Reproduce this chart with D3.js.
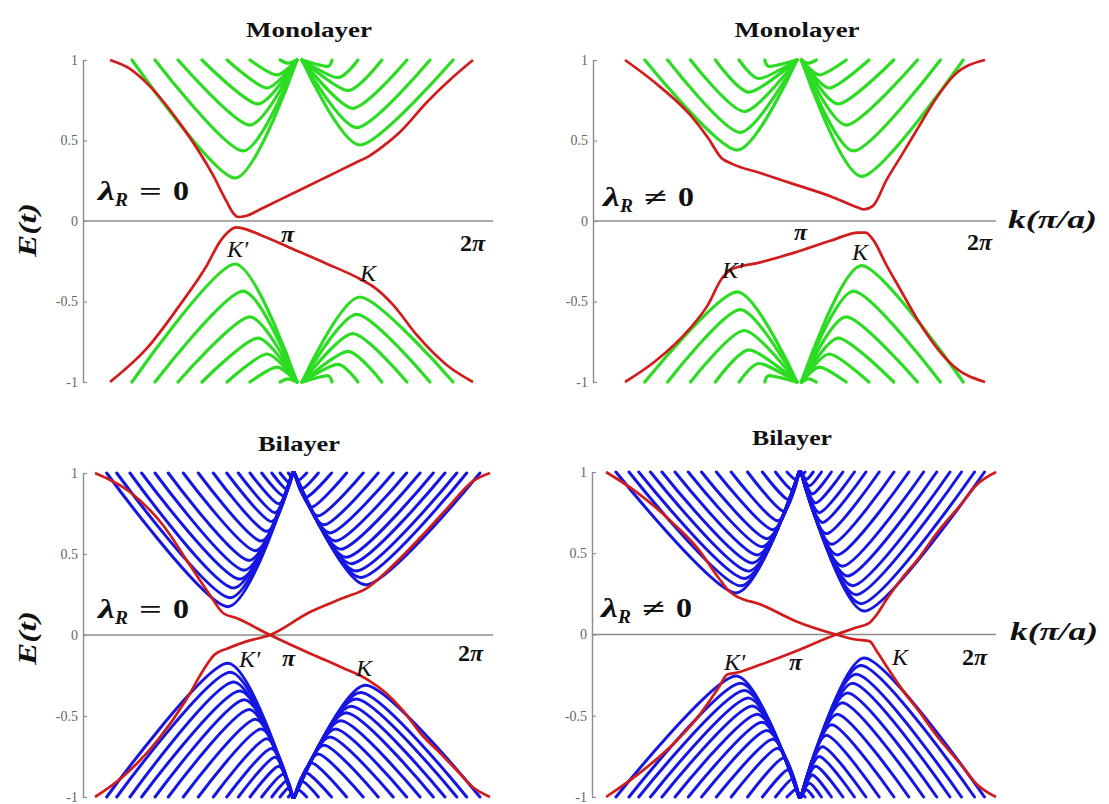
<!DOCTYPE html>
<html><head><meta charset="utf-8">
<script src="https://cdn.jsdelivr.net/npm/d3@7"></script>
<style>body{margin:0;background:#fff}</style>
</head><body>
<svg id="chart" width="1109" height="804"></svg>
<script>
// ---------- DATA (k in units of pi, E in units of t) ----------
// Only the E>0 half of every sub-band is listed; the E<0 half is its mirror (E -> -E), as read in the figure.
// Each sub-band: k where it leaves E=1, position/value of its minimum, k where it returns to E=1.
const yTicks = [-1, -0.5, 0, 0.5, 1];

// Monolayer, lambda_R = 0
const monoR0_leftStart = [0.121, 0.248, 0.375, 0.507, 0.645, 0.771, 0.937];
const monoR0_leftMinK  = [0.689, 0.733, 0.771, 0.815, 0.865, 0.92, 0.98];
const monoR0_leftMinE  = [0.267, 0.435, 0.596, 0.727, 0.826, 0.907, 0.98];
const monoR0_leftApex  = 1.03;
const monoR0_rightApex = 1.058;
const monoR0_rightMinK = [1.377, 1.36, 1.338, 1.311, 1.256, 1.196];
const monoR0_rightMinE = [0.472, 0.58, 0.70, 0.81, 0.89, 0.96];
const monoR0_rightEnd  = [1.89, 1.763, 1.636, 1.498, 1.366, 1.223];
const monoR0_redA = [[0,1],[0.11,0.945],[0.204,0.855],[0.386,0.605],[0.567,0.286],[0.643,0.12],[0.68,0.048],[0.705,0.025],[0.753,0.033],[0.843,0.081],[0.937,0.133],[1.10,0.222],[1.196,0.275],[1.35,0.36],[1.43,0.405],[1.50,0.46],[1.598,0.553],[1.747,0.739],[1.89,0.894],[2,1]];
const monoR0_redB = [[0,-1],[0.204,-0.79],[0.386,-0.52],[0.535,-0.273],[0.606,-0.128],[0.66,-0.06],[0.695,-0.04],[0.735,-0.047],[0.826,-0.085],[1.01,-0.175],[1.194,-0.265],[1.377,-0.36],[1.46,-0.415],[1.561,-0.522],[1.69,-0.708],[1.855,-0.894],[2,-1]];

// Monolayer, lambda_R != 0
const monoRn_leftStart = [0.11, 0.237, 0.364, 0.502, 0.634, 0.777];
const monoRn_leftMinK  = [0.623, 0.64, 0.662, 0.689, 0.744, 0.804];
const monoRn_leftMinE  = [0.44, 0.55, 0.68, 0.80, 0.885, 0.96];
const monoRn_leftApex  = 0.955;
const monoRn_rightApex = 0.98;
const monoRn_rightMinK = [1.315, 1.27, 1.229, 1.185, 1.135, 1.08, 1.02];
const monoRn_rightMinE = [0.277, 0.435, 0.596, 0.727, 0.826, 0.907, 0.98];
const monoRn_rightEnd  = [1.879, 1.752, 1.625, 1.493, 1.355, 1.229, 1.063];
const monoRn_redA = [[0,1],[0.166,0.86],[0.361,0.66],[0.459,0.52],[0.537,0.39],[0.595,0.355],[0.751,0.298],[0.946,0.226],[1.141,0.154],[1.298,0.082],[1.327,0.072],[1.376,0.092],[1.454,0.257],[1.532,0.40],[1.629,0.58],[1.727,0.76],[1.824,0.90],[2,1]];
const monoRn_redB = [[0,-1],[0.166,-0.873],[0.361,-0.667],[0.459,-0.524],[0.537,-0.359],[0.595,-0.298],[0.751,-0.257],[0.946,-0.195],[1.141,-0.123],[1.298,-0.072],[1.337,-0.072],[1.376,-0.113],[1.454,-0.277],[1.532,-0.43],[1.629,-0.62],[1.727,-0.78],[1.824,-0.90],[2,-1]];

// Bilayer, lambda_R = 0
const biR0_leftStart = [0.059, 0.11, 0.177, 0.236, 0.304, 0.371, 0.447, 0.523, 0.599, 0.667, 0.726, 0.785, 0.844, 0.895, 0.937, 0.979];
const biR0_leftMinK  = [0.672, 0.685, 0.702, 0.733, 0.756, 0.78, 0.812, 0.841, 0.869, 0.893, 0.911, 0.93, 0.953, 0.971, 0.984, 0.997];
const biR0_leftMinE  = [0.175, 0.23, 0.29, 0.345, 0.40, 0.46, 0.52, 0.58, 0.64, 0.70, 0.755, 0.81, 0.86, 0.90, 0.94, 0.975];
const biR0_leftApex  = 1.0;
const biR0_rightApex = 1.01;
const biR0_rightMinK = [1.37, 1.345, 1.322, 1.298, 1.272, 1.245, 1.218, 1.19, 1.16, 1.13, 1.097, 1.068, 1.05, 1.03];
const biR0_rightMinE = [0.31, 0.355, 0.395, 0.44, 0.48, 0.53, 0.58, 0.63, 0.68, 0.735, 0.79, 0.85, 0.905, 0.955];
const biR0_rightEnd  = [1.949, 1.882, 1.832, 1.772, 1.713, 1.646, 1.578, 1.51, 1.434, 1.358, 1.274, 1.198, 1.131, 1.072];
const biR0_redA = [[0,1],[0.177,0.883],[0.344,0.679],[0.48,0.432],[0.582,0.247],[0.648,0.136],[0.719,0.103],[0.886,0],[1.1,-0.12],[1.25,-0.2],[1.384,-0.278],[1.473,-0.358],[1.562,-0.47],[1.65,-0.61],[1.74,-0.72],[1.828,-0.83],[1.914,-0.94],[2,-1]];
const biR0_redB = [[0,-1],[0.141,-0.875],[0.318,-0.648],[0.461,-0.401],[0.549,-0.216],[0.603,-0.123],[0.674,-0.082],[0.763,-0.041],[0.886,0],[1.089,0.142],[1.256,0.228],[1.377,0.29],[1.509,0.43],[1.646,0.60],[1.782,0.78],[1.914,0.95],[2,1]];

// Bilayer, lambda_R != 0
const biRn_leftStart = [0.051, 0.118, 0.168, 0.228, 0.287, 0.354, 0.422, 0.49, 0.566, 0.642, 0.726, 0.802, 0.869, 0.928];
const biRn_leftMinK  = [0.667, 0.69, 0.71, 0.73, 0.75, 0.775, 0.80, 0.825, 0.855, 0.88, 0.91, 0.935, 0.955, 0.975];
const biRn_leftMinE  = [0.256, 0.30, 0.345, 0.39, 0.44, 0.49, 0.54, 0.59, 0.645, 0.70, 0.76, 0.83, 0.89, 0.95];
const biRn_leftApex  = 0.99;
const biRn_rightApex = 1.0;
const biRn_rightMinK = [1.325, 1.308, 1.283, 1.265, 1.239, 1.213, 1.186, 1.158, 1.131, 1.111, 1.094, 1.076, 1.059, 1.043, 1.028, 1.011];
const biRn_rightMinE = [0.144, 0.19, 0.245, 0.30, 0.36, 0.42, 0.49, 0.555, 0.62, 0.69, 0.75, 0.81, 0.865, 0.915, 0.955, 0.987];
const biRn_rightEnd  = [1.941, 1.89, 1.823, 1.764, 1.696, 1.629, 1.553, 1.477, 1.401, 1.333, 1.274, 1.215, 1.156, 1.105, 1.063, 1.021];
const biRn_redA = [[0,1],[0.162,0.872],[0.342,0.687],[0.468,0.533],[0.577,0.349],[0.631,0.267],[0.667,0.236],[0.793,0.185],[0.973,0.082],[1.18,0],[1.279,-0.031],[1.351,-0.041],[1.387,-0.10],[1.441,-0.20],[1.514,-0.33],[1.604,-0.47],[1.694,-0.62],[1.82,-0.80],[1.9,-0.92],[2,-1]];
const biRn_redB = [[0,-1],[0.162,-0.862],[0.342,-0.677],[0.468,-0.513],[0.577,-0.328],[0.622,-0.246],[0.667,-0.236],[0.793,-0.185],[0.973,-0.103],[1.18,0],[1.279,0.041],[1.351,0.072],[1.387,0.12],[1.441,0.22],[1.514,0.34],[1.604,0.47],[1.694,0.62],[1.82,0.80],[1.9,0.92],[2,1]];

// ---------- DRAWING ----------
const svg = d3.select('#chart');
const SERIF = '"Liberation Serif","Times New Roman",serif';
const GREEN = '#2bdc22', RED = '#d11c1c', BLUE = '#1616e2', AXIS = '#8c8c8c';

const panels = [
  {kx0:110, kx1:473, yTop:60, yBot:382, axisX:83, axisEnd:493, color:GREEN, lw:3.2,
   ls:monoR0_leftStart, lmk:monoR0_leftMinK, lme:monoR0_leftMinE, la:monoR0_leftApex,
   ra:monoR0_rightApex, rmk:monoR0_rightMinK, rme:monoR0_rightMinE, re:monoR0_rightEnd,
   red:[monoR0_redA, monoR0_redB]},
  {kx0:625, kx1:985, yTop:60, yBot:382, axisX:593, axisEnd:996, color:GREEN, lw:3.2,
   ls:monoRn_leftStart, lmk:monoRn_leftMinK, lme:monoRn_leftMinE, la:monoRn_leftApex,
   ra:monoRn_rightApex, rmk:monoRn_rightMinK, rme:monoRn_rightMinE, re:monoRn_rightEnd,
   red:[monoRn_redA, monoRn_redB]},
  {kx0:95, kx1:490, yTop:473, yBot:797, axisX:83, axisEnd:493, color:BLUE, lw:3,
   ls:biR0_leftStart, lmk:biR0_leftMinK, lme:biR0_leftMinE, la:biR0_leftApex,
   ra:biR0_rightApex, rmk:biR0_rightMinK, rme:biR0_rightMinE, re:biR0_rightEnd,
   red:[biR0_redA, biR0_redB]},
  {kx0:606, kx1:996, yTop:472, yBot:797, axisX:592, axisEnd:996, color:BLUE, lw:3,
   ls:biRn_leftStart, lmk:biRn_leftMinK, lme:biRn_leftMinE, la:biRn_leftApex,
   ra:biRn_rightApex, rmk:biRn_rightMinK, rme:biRn_rightMinE, re:biRn_rightEnd,
   red:[biRn_redA, biRn_redB]}
];

panels.forEach(p => {
  const g = svg.append('g');
  const x = d3.scaleLinear().domain([0, 2]).range([p.kx0, p.kx1]);
  const y = d3.scaleLinear().domain([-1, 1]).range([p.yBot, p.yTop]);

  const ax = d3.axisLeft(y).tickValues(yTicks).tickFormat(d => String(d))
    .tickSizeInner(-4).tickSizeOuter(0).tickPadding(5);
  const axG = g.append('g').attr('transform', `translate(${p.axisX},0)`).call(ax);
  axG.select('.domain').attr('stroke', AXIS).attr('stroke-width', 1.4);
  axG.selectAll('.tick line').attr('stroke', AXIS).attr('stroke-width', 1.2);
  axG.selectAll('.tick text').attr('fill', '#666').attr('font-family', SERIF).attr('font-size', 14);
  g.append('line').attr('x1', p.axisX).attr('x2', p.axisEnd)
    .attr('y1', y(0)).attr('y2', y(0)).attr('stroke', AXIS).attr('stroke-width', 1.4);

  const band = d3.line().x(d => x(d[0])).y(d => y(d[1])).curve(d3.curveCardinal.tension(0.25));
  const curves = [];
  p.ls.forEach((s, i) => curves.push([[s, 1], [p.lmk[i], p.lme[i]], [p.la, 1]]));
  p.re.forEach((e, i) => curves.push([[p.ra, 1], [p.rmk[i], p.rme[i]], [e, 1]]));
  const all = [];
  curves.forEach(c => { all.push(c); all.push(c.map(d => [d[0], -d[1]])); });
  g.append('g').selectAll('path').data(all).join('path')
    .attr('d', band).attr('fill', 'none').attr('stroke', p.color)
    .attr('stroke-width', p.lw).attr('stroke-linecap', 'round');

  const redLine = d3.line().x(d => x(d[0])).y(d => y(d[1])).curve(d3.curveMonotoneX);
  g.append('g').selectAll('path').data(p.red).join('path')
    .attr('d', redLine).attr('fill', 'none').attr('stroke', RED)
    .attr('stroke-width', 2.7).attr('stroke-linejoin', 'round');
});

// ---------- TEXT ----------
function txt(s, x, y, o = {}) {
  const t = svg.append('text').attr('x', x).attr('y', y).text(s)
    .attr('font-family', SERIF).attr('font-size', o.size || 22)
    .attr('font-weight', o.weight || 'normal').attr('font-style', o.style || 'normal')
    .attr('fill', o.fill || '#111').attr('text-anchor', o.anchor || 'start');
  if (o.len) t.attr('textLength', o.len).attr('lengthAdjust', 'spacingAndGlyphs');
  if (o.rot) t.attr('transform', `rotate(-90,${x},${y})`);
  return t;
}
txt('Monolayer', 309, 37, {size: 22, weight: 'bold', anchor: 'middle', len: 126});
txt('Monolayer', 797, 37, {size: 22, weight: 'bold', anchor: 'middle', len: 125});
txt('Bilayer', 299, 451, {size: 22, weight: 'bold', anchor: 'middle', len: 82});
txt('Bilayer', 792, 445, {size: 22, weight: 'bold', anchor: 'middle', len: 80});
txt('E(t)', 36, 230, {size: 26, weight: 'bold', style: 'italic', anchor: 'middle', rot: true, len: 54});
txt('E(t)', 36, 638, {size: 26, weight: 'bold', style: 'italic', anchor: 'middle', rot: true, len: 54});
txt('k(π/a)', 1008, 228, {size: 26, weight: 'bold', style: 'italic', len: 89});
txt('k(π/a)', 1010, 640, {size: 26, weight: 'bold', style: 'italic', len: 88});
function lam(x0, base, rel) {
  txt('λ', x0, base, {size: 28, weight: 'bold', style: 'italic', len: 17});
  txt('R', x0 + 17, base + 6, {size: 18, weight: 'bold', style: 'italic', len: 13});
  txt(rel, x0 + 41, base, {size: 26, weight: 'bold', len: 23});
  txt('0', x0 + 75, base, {size: 27, weight: 'bold', len: 16});
}
lam(98, 200, '=');
lam(603, 206, '≠');
lam(98, 618, '=');
lam(601, 617, '≠');
function kl(s, x, y, bold) {
  txt(s, x, y, {size: 24, style: 'italic', weight: bold ? 'bold' : 'normal'});
}
function twoPi(x, y) {
  const t = svg.append('text').attr('x', x).attr('y', y).attr('font-family', SERIF)
    .attr('font-size', 24).attr('font-weight', 'bold').attr('fill', '#111');
  t.append('tspan').text('2');
  t.append('tspan').attr('font-style', 'italic').text('π');
}
kl('K′', 227, 257); kl('π', 281, 242, true); kl('K', 360, 281); twoPi(460, 251);
kl('K′', 722, 278); kl('π', 794, 240, true); kl('K', 852, 260); twoPi(967, 250);
kl('K′', 239, 667); kl('π', 282, 666, true); kl('K', 356, 676); twoPi(458, 661);
kl('K′', 724, 670); kl('π', 789, 670, true); kl('K', 892, 665); twoPi(962, 665);
</script>
</body></html>
